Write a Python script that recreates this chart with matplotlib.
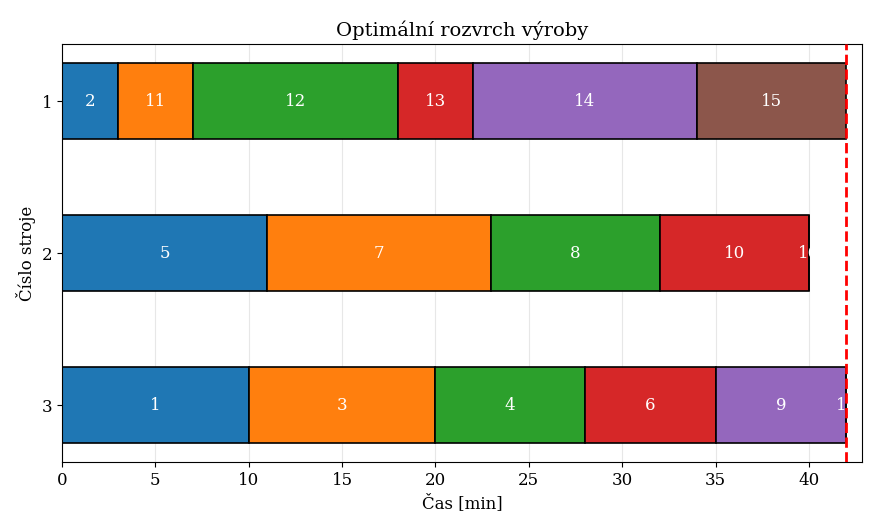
import matplotlib
matplotlib.use('Agg')
import matplotlib.pyplot as plt

plt.rcParams['font.family'] = ['DejaVu Serif']

# rozvrh: zakázky, začátky a doby pro každý stroj
machines = [1, 2, 3]
jobs_m1 = ['2', '11', '12', '13', '14', '15']
start_m1 = [0, 3, 7, 18, 22, 34]
dur_m1 = [3, 4, 11, 4, 12, 8]
jobs_m2 = ['5', '7', '8', '10', '16']
start_m2 = [0, 11, 23, 32, 40]
dur_m2 = [11, 12, 9, 8, 0]
jobs_m3 = ['1', '3', '4', '6', '9', '17']
start_m3 = [0, 10, 20, 28, 35, 42]
dur_m3 = [10, 10, 8, 7, 7, 0]
makespan = 42

schedule = [(jobs_m1, start_m1, dur_m1), (jobs_m2, start_m2, dur_m2), (jobs_m3, start_m3, dur_m3)]
colors = plt.get_cmap('tab10').colors

fig, ax = plt.subplots(figsize=(8.72, 5.21), dpi=100)
fig.subplots_adjust(left=0.071, right=0.9885, top=0.9155, bottom=0.113)

for m, (jobs, starts, durs) in zip(machines, schedule):
    for i, (j, s, d) in enumerate(zip(jobs, starts, durs)):
        ax.barh(m, d, left=s, height=0.5, color=colors[i % 10], edgecolor='black', linewidth=1.2, zorder=2)
        ax.text(s + d / 2, m, j, ha='center', va='center', color='white', fontsize=12, zorder=3)

ax.axvline(makespan, color='red', linestyle='--', linewidth=2, zorder=4)
ax.set_xlim(0, makespan * 1.02)
ax.set_yticks(machines)
ax.invert_yaxis()
ax.grid(axis='x', alpha=0.3, zorder=0)
ax.set_axisbelow(True)
ax.tick_params(labelsize=12)
ax.set_xlabel('Čas [min]', fontsize=12)
ax.set_ylabel('Číslo stroje', fontsize=12)
ax.set_title('Optimální rozvrch výroby', fontsize=14)

plt.savefig('out.png', dpi=100)
